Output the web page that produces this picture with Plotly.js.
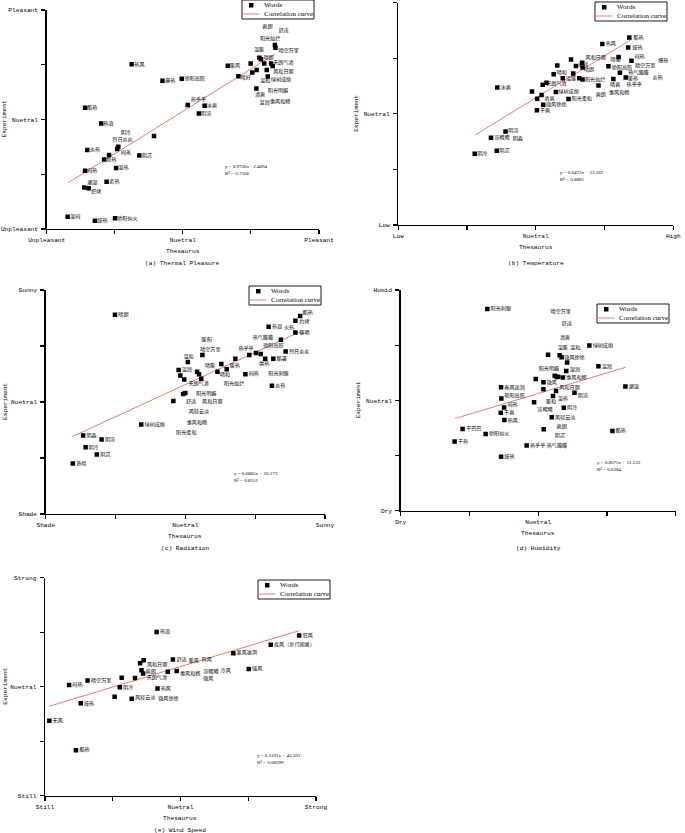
<!DOCTYPE html>
<html><head><meta charset="utf-8">
<script src="https://cdn.plot.ly/plotly-3.0.1.min.js"></script>
<style>html,body{margin:0;padding:0;background:#fff}#chart{width:685px;height:833px}</style>
</head><body><div id="chart"></div>
<script>
// ---------- (a) Thermal Pleasure ----------
const aPointX = [31.2,42.5,49.6,66.5,70.4,74.9,75.5,77.1,78.1,78.7,79.9,80.8,81.2,82.4,83.0,83.8,84.0,77.0,51.8,58.0,55.9,14.1,20.0,39.4,26.3,25.9,14.9,22.9,21.1,34.0,25.5,14.1,22.0,13.8,15.4,7.7,17.7,25.1];
const aPointY = [75.2,67.7,68.6,74.6,69.7,75.6,71.5,72.6,78.2,77.5,75.6,72.6,69.6,75.6,74.4,84.0,82.8,64.2,56.6,56.3,52.7,55.4,48.2,42.5,37.6,36.5,36.1,33.8,31.7,33.6,27.9,26.6,21.6,19.0,18.6,5.6,3.8,4.9];
const aWords = ['热风','暴热','骄阳高照','暖风','晴好','爽朗','舒适','阳光灿烂','温暖','晴空万里','晴朗','天朗气清','风和日丽','温和','绿树成荫','清爽','阳光明媚','温润','惠风和畅','热乎乎','冰爽','阴凉','酷热','热浪','阴冷','烈日炎炎','闷蒸','炎热','烦热','阴沉','湿热','闷热','炙热','潮湿','炽烤','湿闷','燥热','骄阳似火'];
const aWordX = [32.2,43.5,50.6,67.3,71.2,79.2,85.1,78.3,76.1,85.1,79.6,83.2,83.2,78.3,82.3,76.5,81.2,78.1,82.0,52.9,58.8,56.7,14.9,20.8,27.2,24.1,27.2,15.9,21.8,34.9,26.3,14.9,23.0,14.9,16.3,8.6,18.6,25.9];
const aWordY = [75.2,67.6,68.5,74.6,68.9,92.4,90.6,86.8,82.0,81.4,78.2,75.9,72.0,67.6,68.0,61.5,63.3,57.8,58.3,59.2,56.3,52.7,55.4,48.2,44.0,40.6,35.0,36.1,31.7,33.6,27.9,26.6,21.6,21.2,17.0,5.6,3.8,4.9];
const aFitX = [8.0,83.8];
const aFitY = [21.2,79.9];
const aEquation = ['y = 0.9726x - 2.4694','R² = 0.7506'];
const aTicks = ['Unpleasant','','Nuetral','','Pleasant'];

// ---------- (b) Temperature ----------
const bPointX = [84.0,74.2,83.6,80.1,84.8,62.8,57.8,66.9,67.0,64.6,76.4,56.5,63.6,80.6,59.8,65.8,67.0,78.2,82.7,53.9,52.5,36.0,48.6,57.3,72.8,50.5,52.1,61.9,52.7,50.4,39.0,33.7,35.8,27.8];
const bPointY = [84.3,81.4,79.8,75.6,73.9,74.4,71.7,73.0,70.9,71.5,71.4,67.8,68.2,68.5,66.0,66.0,65.4,65.7,66.4,64.0,63.1,61.9,60.0,59.8,62.8,56.8,58.5,56.7,54.1,51.6,42.1,39.3,33.4,32.1];
const bWords = ['酷热','热风','燥热','闷热','爆热','风和日丽','晴暖','舒适','骄阳高照','晴空万里','晴朗','晴和','热气腾腾','温暖','阳光灿烂','暖热','炎热','天朗气清','晴爽','热乎乎','冰爽','绿树成荫','惠风和畅','爽朗','清爽','阳光柔和','微风徐徐','干爽','阴凉','凉飕飕','阴森','阴沉','阴冷'];
const bWordX = [85.5,75.4,85.1,85.9,94.5,68.1,77.2,65.4,77.6,86.1,67.5,57.6,83.6,61.0,67.9,83.5,92.4,53.8,77.0,83.0,37.2,58.2,76.6,71.8,53.1,63.0,53.7,51.5,40.0,34.9,41.6,36.7,28.7];
const bWordY = [84.3,81.4,79.8,75.7,73.9,75.3,74.4,72.2,70.9,71.7,69.7,68.7,68.5,65.7,65.5,65.8,66.4,63.6,63.0,63.0,61.9,60.0,59.5,58.5,56.7,56.7,54.1,51.6,42.3,39.3,38.8,33.4,32.1];
const bFitX = [27.9,84.8];
const bFitY = [40.5,83.5];
const bEquation = ['y = 0.6472x + 23.162','R² = 0.6881'];
const bTicks = ['Low','','Nuetral','','High'];

// ---------- (c) Radiation ----------
const cPointX = [24.8,91.1,89.4,79.8,89.4,84.2,85.9,81.5,78.6,75.3,77.0,72.9,67.9,64.8,62.9,61.5,71.5,81.0,56.1,50.9,47.6,48.2,49.6,54.2,54.9,55.7,49.2,50.0,45.7,34.2,13.4,20.0,14.3,18.3,9.7];
const cPointY = [89.0,88.4,86.3,83.6,81.0,77.8,72.6,69.3,69.3,71.9,71.4,71.0,69.3,64.6,67.0,63.5,62.4,57.3,71.0,67.9,64.3,61.8,60.1,63.5,62.4,60.4,53.6,54.0,50.4,40.0,35.0,33.3,29.8,26.6,22.6];
const cWords = ['晴朗','酷热','灼烤','热浪','暴晒','烈日炎炎','酷暑','闷热','炎热','绿树成荫','阴森','阴凉','阴冷','阴沉','昏暗','暖阳','晴空万里','温和','温润','晴暖','晴和','暖热','热乎乎','热气腾腾','骄阳高照','烘热','火热','阳光刺眼','阳光灿烂','天朗气清','阳光明媚','舒适','风和日丽','风轻云淡','惠风和畅','阳光柔和'];
const cWordX = [26.0,92.0,90.8,81.0,90.8,87.1,82.7,72.7,82.2,35.4,14.6,21.2,15.3,19.5,10.9,55.8,55.3,49.3,48.7,57.0,62.4,65.9,69.0,74.1,77.9,76.4,85.3,79.7,63.8,51.1,53.8,50.2,56.0,51.2,50.5,46.7];
const cWordY = [89.0,89.9,86.0,83.6,81.0,72.6,69.3,62.4,57.3,40.0,35.0,33.3,29.8,26.6,22.6,77.7,73.5,70.4,64.3,66.2,62.1,66.0,74.0,78.9,75.1,67.0,83.2,62.8,58.3,58.2,53.9,49.9,49.9,45.8,40.9,36.2];
const cFitX = [9.5,91.1];
const cFitY = [34.5,81.4];
const cEquation = ['y = 0.6865x + 20.173','R² = 0.8551'];
const cTicks = ['Shade','','Nuetral','','Sunny'];

// ---------- (d) Humidity ----------
const dPointX = [31.5,68.6,53.6,57.8,58.5,60.5,71.9,60.2,56.0,56.7,57.3,59.0,49.1,51.9,51.9,56.5,55.4,63.2,36.5,36.6,37.6,48.5,36.4,37.7,59.3,54.9,52.0,22.5,30.9,19.6,45.8,36.5,77.0,81.7];
const dPointY = [91.4,74.8,70.7,70.4,69.5,67.2,65.4,63.3,61.2,60.6,60.7,60.4,59.7,58.2,55.0,54.2,52.0,53.5,55.9,50.8,46.8,49.1,44.4,41.1,46.7,42.3,36.9,37.0,34.7,31.3,29.5,24.5,36.1,56.3];
const dWords = ['阳光刺眼','绿树成荫','微风徐徐','温润','湿润','惠风和畅','微风','阴凉','春风送润','艳阳高照','闷热','干爽','热风','阴冷','风轻云淡','干巴巴','骄阳似火','干热','热乎乎','燥热','酷热','潮湿','晴空万里','舒适','清爽','温暖','温和','阳光明媚','风和日丽','温热','暖和','凉飕飕','爽朗','阴沉','热气腾腾'];
const dWordX = [32.7,69.8,59.5,73.1,61.5,60.2,53.1,64.4,37.7,37.7,38.8,37.6,38.9,60.5,56.1,23.8,32.1,20.8,47.0,37.7,78.2,82.9,54.5,58.5,57.9,57.1,61.6,50.2,57.7,57.1,52.8,49.7,56.7,56.0,53.1];
const dWordY = [91.4,74.8,69.5,65.4,64.0,60.4,58.2,52.1,55.9,52.0,48.0,44.4,40.8,46.7,42.0,37.0,34.7,31.3,29.5,24.5,36.1,56.3,90.2,84.6,78.5,73.7,73.7,64.2,55.9,50.9,49.5,45.9,38.1,33.8,29.5];
const dFitX = [19.8,81.8];
const dFitY = [41.8,65.0];
const dEquation = ['y = 0.8075x + 12.133','R² = 0.6284'];
const dTicks = ['Dry','','Nuetral','','Humid'];

// ---------- (e) Wind Speed ----------
const ePointX = [41.2,93.8,83.3,69.5,47.2,36.4,35.1,35.6,45.3,48.6,36.2,33.2,28.3,75.2,15.7,8.9,27.6,41.5,25.7,32.0,13.2,1.6,11.4];
const ePointY = [75.1,73.5,69.3,65.4,62.5,62.1,60.7,57.5,56.9,57.2,56.0,54.0,54.1,58.1,52.9,50.8,49.7,49.2,45.4,44.5,42.4,34.4,20.9];
const eWords = ['热浪','狂风','疾风（步行困难）','寒风凛冽','舒适','风和日丽','爽朗','惠风和畅','强风','晴空万里','闷热','阴冷','热风','风轻云淡','燥热','无风','酷热','天朗气清','暖风','阵风','凉飕飕','冷风','微风','微风徐徐'];
const eWordX = [42.4,95.1,84.5,70.7,48.5,37.6,37.1,49.8,76.4,17.0,10.1,28.8,42.7,33.2,14.4,2.8,12.7,37.5,53.0,57.8,58.4,64.8,58.4,41.8];
const eWordY = [75.1,73.5,69.3,65.4,62.5,59.9,56.7,56.1,58.1,52.9,50.8,49.7,49.2,45.1,42.4,34.4,20.9,54.1,62.1,62.5,56.9,57.2,53.8,44.3];
const eFitX = [1.5,93.8];
const eFitY = [41.0,75.7];
const eEquation = ['y = 0.3191x + 42.593','R² = 0.08399'];
const eTicks = ['Still','','Nuetral','','Strong'];

const captions = ['(a) Thermal Pleasure','(b) Temperature','(c) Radiation','(d) Humidity','(e) Wind Speed'];
const legendNames = ['Words','Correlation curve'];
const tickVals = [0,25,50,75,100];

// ---------- layout geometry (pixels) ----------
const W = 685, H = 833;
const panels = [
  {pts:[aPointX,aPointY], words:[aWords,aWordX,aWordY], fit:[aFitX,aFitY], eq:aEquation, ticks:aTicks,
   box:[46.7,319,10,229], eqPos:[64.9,26.9], leg:[242,0], xt:251, yt:4, cap:264},
  {pts:[bPointX,bPointY], words:[bWords,bWordX,bWordY], fit:[bFitX,bFitY], eq:bEquation, ticks:bTicks,
   box:[398.3,673.3,2.7,225], eqPos:[58.2,22.2], leg:[595,2], xt:247, yt:357, cap:264},
  {pts:[cPointX,cPointY], words:[cWords,cWordX,cWordY], fit:[cFitX,cFitY], eq:cEquation, ticks:cTicks,
   box:[45.7,325,290,514], eqPos:[66.7,16.4], leg:[249,286], xt:536, yt:6, cap:548},
  {pts:[dPointX,dPointY], words:[dWords,dWordX,dWordY], fit:[dFitX,dFitY], eq:dEquation, ticks:dTicks,
   box:[400.7,675.7,290,510.7], eqPos:[70.7,20.2], leg:[597,304], xt:533, yt:358, cap:548},
  {pts:[ePointX,ePointY], words:[eWords,eWordX,eWordY], fit:[eFitX,eFitY], eq:eEquation, ticks:eTicks,
   box:[45,316,577.7,795.7], eqPos:[77.5,16.8], leg:[258,580], xt:818, yt:6, cap:830}
];

const monoFont = {family:'Liberation Mono, DejaVu Sans Mono, monospace', size:6.2, color:'#000'};
const serifFont = {family:'Liberation Serif, DejaVu Serif, serif', size:7, color:'#000'};
const cjkFont = {family:'Noto Sans CJK SC, sans-serif', size:5.1, color:'#000'};
const fitColor = '#e86a62';

const traces = [];
const layout = {
  width:W, height:H, margin:{l:0,r:0,t:0,b:0},
  paper_bgcolor:'#fff', plot_bgcolor:'rgba(0,0,0,0)',
  showlegend:false, annotations:[], shapes:[], font:monoFont
};
const px = v => v/W, py = v => 1-v/H;

panels.forEach((p,i)=>{
  const sfx = i===0 ? '' : String(i+1);
  const xa = 'x'+sfx, ya = 'y'+sfx;
  const [l,r,t,b] = p.box;
  const axisBase = {
    range:[0,100], showgrid:false, zeroline:false, showline:true, linecolor:'#000', linewidth:1.4,
    ticks:'outside', ticklen:4, tickwidth:1.1, tickcolor:'#000',
    tickmode:'array', tickvals:tickVals, ticktext:p.ticks, tickfont:monoFont, fixedrange:true
  };
  layout['xaxis'+sfx] = Object.assign({}, axisBase, {domain:[px(l), px(r)], anchor:ya});
  layout['yaxis'+sfx] = Object.assign({}, axisBase, {domain:[py(b), py(t)], anchor:xa, ticklabelstandoff:2});

  traces.push({type:'scatter', mode:'lines', x:p.fit[0], y:p.fit[1], xaxis:xa, yaxis:ya,
    name:legendNames[1], line:{color:fitColor, width:0.9}, hoverinfo:'skip'});
  traces.push({type:'scatter', mode:'markers', x:p.pts[0], y:p.pts[1], xaxis:xa, yaxis:ya,
    name:legendNames[0], marker:{symbol:'square', size:4.5, color:'#000'}, hoverinfo:'x+y'});
  traces.push({type:'scatter', mode:'text', x:p.words[1], y:p.words[2], text:p.words[0], xaxis:xa, yaxis:ya,
    textposition:'middle right', textfont:cjkFont, cliponaxis:false, hoverinfo:'text'});

  // regression equation
  layout.annotations.push({xref:xa, yref:ya, x:p.eqPos[0], y:p.eqPos[1], xanchor:'left', yanchor:'middle',
    text:p.eq[0]+'<br>'+p.eq[1], align:'left', showarrow:false,
    font:{family:'Liberation Serif, serif', size:5, color:'#000'}});
  // axis titles
  const cx = (l+r)/2;
  layout.annotations.push({xref:'paper', yref:'paper', x:px(cx), y:py(p.xt), xanchor:'center', yanchor:'middle',
    text:'Thesaurus', showarrow:false, font:monoFont});
  layout.annotations.push({xref:'paper', yref:'paper', x:px(p.yt), y:py((t+b)/2), xanchor:'center', yanchor:'middle',
    text:'Experiment', textangle:-90, showarrow:false, font:monoFont});
  // caption
  layout.annotations.push({xref:'paper', yref:'paper', x:px(cx), y:py(p.cap), xanchor:'center', yanchor:'middle',
    text:captions[i], showarrow:false, font:monoFont});

  // legend box (Origin style: compact)
  const [L,T] = p.leg, LW = 72, LH = 19;
  layout.shapes.push({type:'rect', xref:'paper', yref:'paper', x0:px(L), x1:px(L+LW), y0:py(T), y1:py(T+LH),
    line:{color:'#000', width:0.9}, fillcolor:'#fff', layer:'above'});
  layout.shapes.push({type:'rect', xref:'paper', yref:'paper', x0:px(L+7), x1:px(L+11.5), y0:py(T+3), y1:py(T+7.5),
    line:{width:0}, fillcolor:'#000', layer:'above'});
  layout.shapes.push({type:'line', xref:'paper', yref:'paper', x0:px(L+0.5), x1:px(L+17.5), y0:py(T+14), y1:py(T+14),
    line:{color:fitColor, width:0.9}, layer:'above'});
  layout.annotations.push({xref:'paper', yref:'paper', x:px(L+19.5), y:py(T+5.2), xanchor:'left', yanchor:'middle',
    text:legendNames[0], showarrow:false, font:serifFont});
  layout.annotations.push({xref:'paper', yref:'paper', x:px(L+19.5), y:py(T+14), xanchor:'left', yanchor:'middle',
    text:legendNames[1], showarrow:false, font:serifFont});
});

Plotly.newPlot('chart', traces, layout, {displayModeBar:false, staticPlot:true});
</script></body></html>
